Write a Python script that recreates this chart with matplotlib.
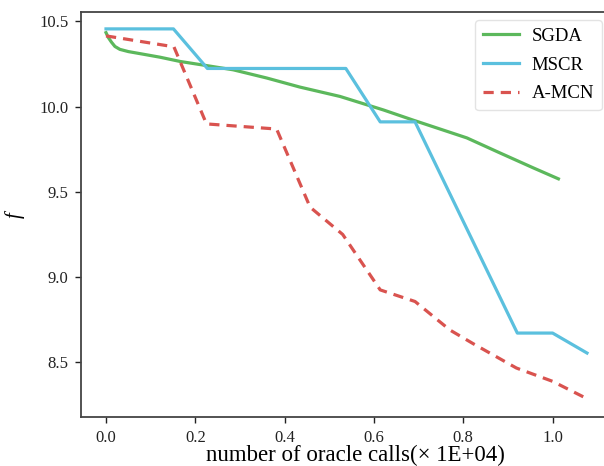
import matplotlib
matplotlib.use("Agg")
import matplotlib.pyplot as plt

plt.rcParams['font.family'] = ['Liberation Serif', 'DejaVu Serif']

sgda_x = [0.0, 0.005, 0.012, 0.02, 0.031, 0.05, 0.076, 0.121, 0.166, 0.225, 0.285, 0.36, 0.434, 0.524, 0.621, 0.688, 0.808, 0.882, 0.957, 1.013]
sgda_y = [10.433, 10.405, 10.378, 10.352, 10.335, 10.322, 10.31, 10.289, 10.264, 10.24, 10.215, 10.167, 10.114, 10.059, 9.98, 9.92, 9.816, 9.728, 9.64, 9.576]

mscr_x = [0.0, 0.151, 0.227, 0.537, 0.614, 0.692, 0.921, 1.0, 1.077]
mscr_y = [10.455, 10.455, 10.223, 10.223, 9.91, 9.91, 8.672, 8.672, 8.555]

amcn_x = [0.0, 0.152, 0.225, 0.382, 0.457, 0.53, 0.614, 0.692, 0.77, 0.822, 0.919, 1.0, 1.075]
amcn_y = [10.414, 10.35, 9.898, 9.868, 9.41, 9.25, 8.925, 8.857, 8.69, 8.61, 8.467, 8.389, 8.29]

xticks = [0.0, 0.2, 0.4, 0.6, 0.8, 1.0]
yticks = [8.5, 9.0, 9.5, 10.0, 10.5]

W, H = 604, 466
fig = plt.figure(figsize=(W/100, H/100), dpi=100)
ax = fig.add_axes([81/W, (H-417)/H, (612-81)/W, (417-12)/H])

ax.plot(sgda_x, sgda_y, color='#5cb85c', lw=2.3, label='SGDA')
ax.plot(mscr_x, mscr_y, color='#5bc0de', lw=2.3, label='MSCR')
ax.plot(amcn_x, amcn_y, color='#d9534f', lw=2.3, ls=(0, (3.2, 2.2)), label='A-MCN')

ax.set_xlim(-0.056, 1.133)
ax.set_ylim(8.18, 10.554)
ax.set_xticks(xticks)
ax.set_xticklabels([f"{v:.1f}" for v in xticks])
ax.set_yticks(yticks)
ax.set_yticklabels([f"{v:.1f}" for v in yticks])
ax.tick_params(labelsize=12, length=4, width=1, colors='#222222', pad=5)
for s in ax.spines.values():
    s.set_color('#444444')
    s.set_linewidth(1.3)

fig.text(355/W, 1-455/H, 'number of oracle calls(× 1E+04)', ha='center', va='center', fontsize=16.5)
fig.text(15/W, 1-215/H, 'f', ha='center', va='center', fontsize=15, style='italic', rotation=90)

leg = ax.legend(loc='upper right', bbox_to_anchor=(602/W, 1-20/H), bbox_transform=fig.transFigure,
                fontsize=13.5, frameon=True, fancybox=True, handlelength=1.9, borderpad=0.42,
                labelspacing=0.62, handletextpad=0.7, borderaxespad=0)
leg.get_frame().set_edgecolor('#dddddd')
leg.get_frame().set_linewidth(1.0)

fig.savefig('out.png', dpi=100)
